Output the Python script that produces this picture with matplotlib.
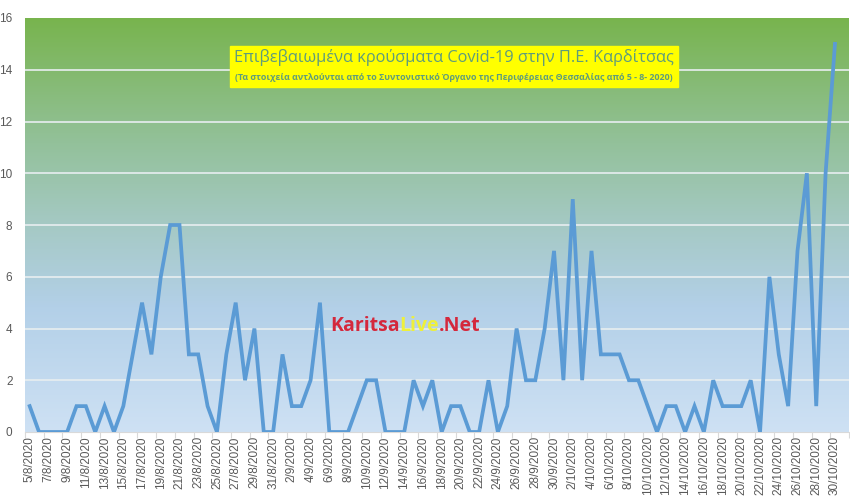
import numpy as np
import pandas as pd
import matplotlib.pyplot as plt
from matplotlib.colors import LinearSegmentedColormap

# daily confirmed cases, Karditsa regional unit
cases_aug = [1, 0, 0, 0, 0, 1, 1, 0, 1, 0, 1, 3, 5, 3, 6, 8, 8, 3, 3, 1, 0, 3, 5, 2, 4, 0, 0]
cases_sep = [3, 1, 1, 2, 5, 0, 0, 0, 1, 2, 2, 0, 0, 0, 2, 1, 2, 0, 1, 1, 0, 0, 2, 0, 1, 4, 2, 2, 4, 7]
cases_oct = [2, 9, 2, 7, 3, 3, 3, 2, 2, 1, 0, 1, 1, 0, 1, 0, 2, 1, 1, 1, 2, 0, 6, 3, 1, 7, 10, 1, 10, 15]

# category axis runs to 31/10 (empty last day)
days = pd.date_range("2020-08-05", "2020-10-31")
day_labels = [f"{d.day}/{d.month}/{d.year}" for d in days]
cases = cases_aug + cases_sep + cases_oct

y_ticks = [0, 2, 4, 6, 8, 10, 12, 14, 16]

title = "Επιβεβαιωμένα κρούσματα Covid-19 στην Π.Ε. Καρδίτσας"
subtitle = "(Τα στοιχεία αντλούνται από το Συντονιστικό Όργανο της Περιφέρειας Θεσσαλίας από 5 - 8- 2020)"

fig = plt.figure(figsize=(8.5, 5), dpi=100)
ax = fig.add_axes([25 / 850, 1 - 432 / 500, 824 / 850, 414 / 500])

n = len(day_labels)
ax.set_xlim(-0.5, n - 0.5)
ax.set_ylim(0, 16)

# background gradient: light blue at the bottom to green at the top
bg = LinearSegmentedColormap.from_list(
    "bg",
    [(0.0, "#cee1f4"), (0.3, "#b3d0e8"), (0.5, "#a5c9c4"),
     (0.7, "#93c19a"), (1.0, "#78b44e")])
grad = np.linspace(0, 1, 256).reshape(-1, 1)
ax.imshow(grad, cmap=bg, origin="lower", aspect="auto",
          extent=[-0.5, n - 0.5, 0, 16], zorder=0)

for y in y_ticks[1:-1]:
    ax.axhline(y, color="#e8eef0", lw=1.2, zorder=1)

ax.plot(range(len(cases)), cases, color="#5b9bd5", lw=2.7,
        solid_joinstyle="miter", zorder=3)

for s in ["top", "right", "left"]:
    ax.spines[s].set_visible(False)
ax.spines["bottom"].set_color("#d9d9d9")

ax.set_yticks(y_ticks)
ax.set_yticklabels([str(v) for v in y_ticks], fontsize=8.5, color="#595959",
                   family="Liberation Sans")
ax.tick_params(axis="y", length=0, pad=9)

ax.set_xticks(np.arange(-0.5, n, 2))
ax.set_xticklabels([])
ax.tick_params(axis="x", which="major", length=4, color="#d9d9d9")
ax.set_xticks(np.arange(0, n, 2), minor=True)
ax.set_xticklabels(day_labels[::2], minor=True, rotation=90, fontsize=8.5,
                   color="#595959", family="Liberation Sans")
ax.tick_params(axis="x", which="minor", length=0, pad=3)

# title in yellow box
fig.patches.append(plt.Rectangle((230 / 850, 1 - 87 / 500), 448 / 850, 41 / 500,
                                 transform=fig.transFigure, color="#ffff00",
                                 zorder=5))
fig.text(454 / 850, 1 - 58 / 500, title, ha="center", va="center",
         fontsize=11.8, color="#5f9c7c", family="Open Sans", zorder=6)
fig.text(454 / 850, 1 - 77 / 500, subtitle, ha="center", va="center",
         fontsize=6.4, color="#5f9c7c", family="Open Sans", weight="bold",
         zorder=6)

# watermark
wm_y = 1 - 326 / 500
t1 = fig.text(330 / 850, wm_y, "Karitsa", ha="left", va="center", fontsize=14,
              color="#d4283c", weight="bold", family="Open Sans", zorder=6)
fig.canvas.draw()
bb = t1.get_window_extent()
t2 = fig.text(bb.x1 / 850, wm_y, "Live", ha="left", va="center", fontsize=14,
              color="#eef03a", weight="bold", family="Open Sans", zorder=6)
bb = t2.get_window_extent(renderer=fig.canvas.get_renderer())
fig.text(bb.x1 / 850, wm_y, ".Net", ha="left", va="center", fontsize=14,
         color="#d4283c", weight="bold", family="Open Sans", zorder=6)

fig.savefig("out.png", dpi=100)
